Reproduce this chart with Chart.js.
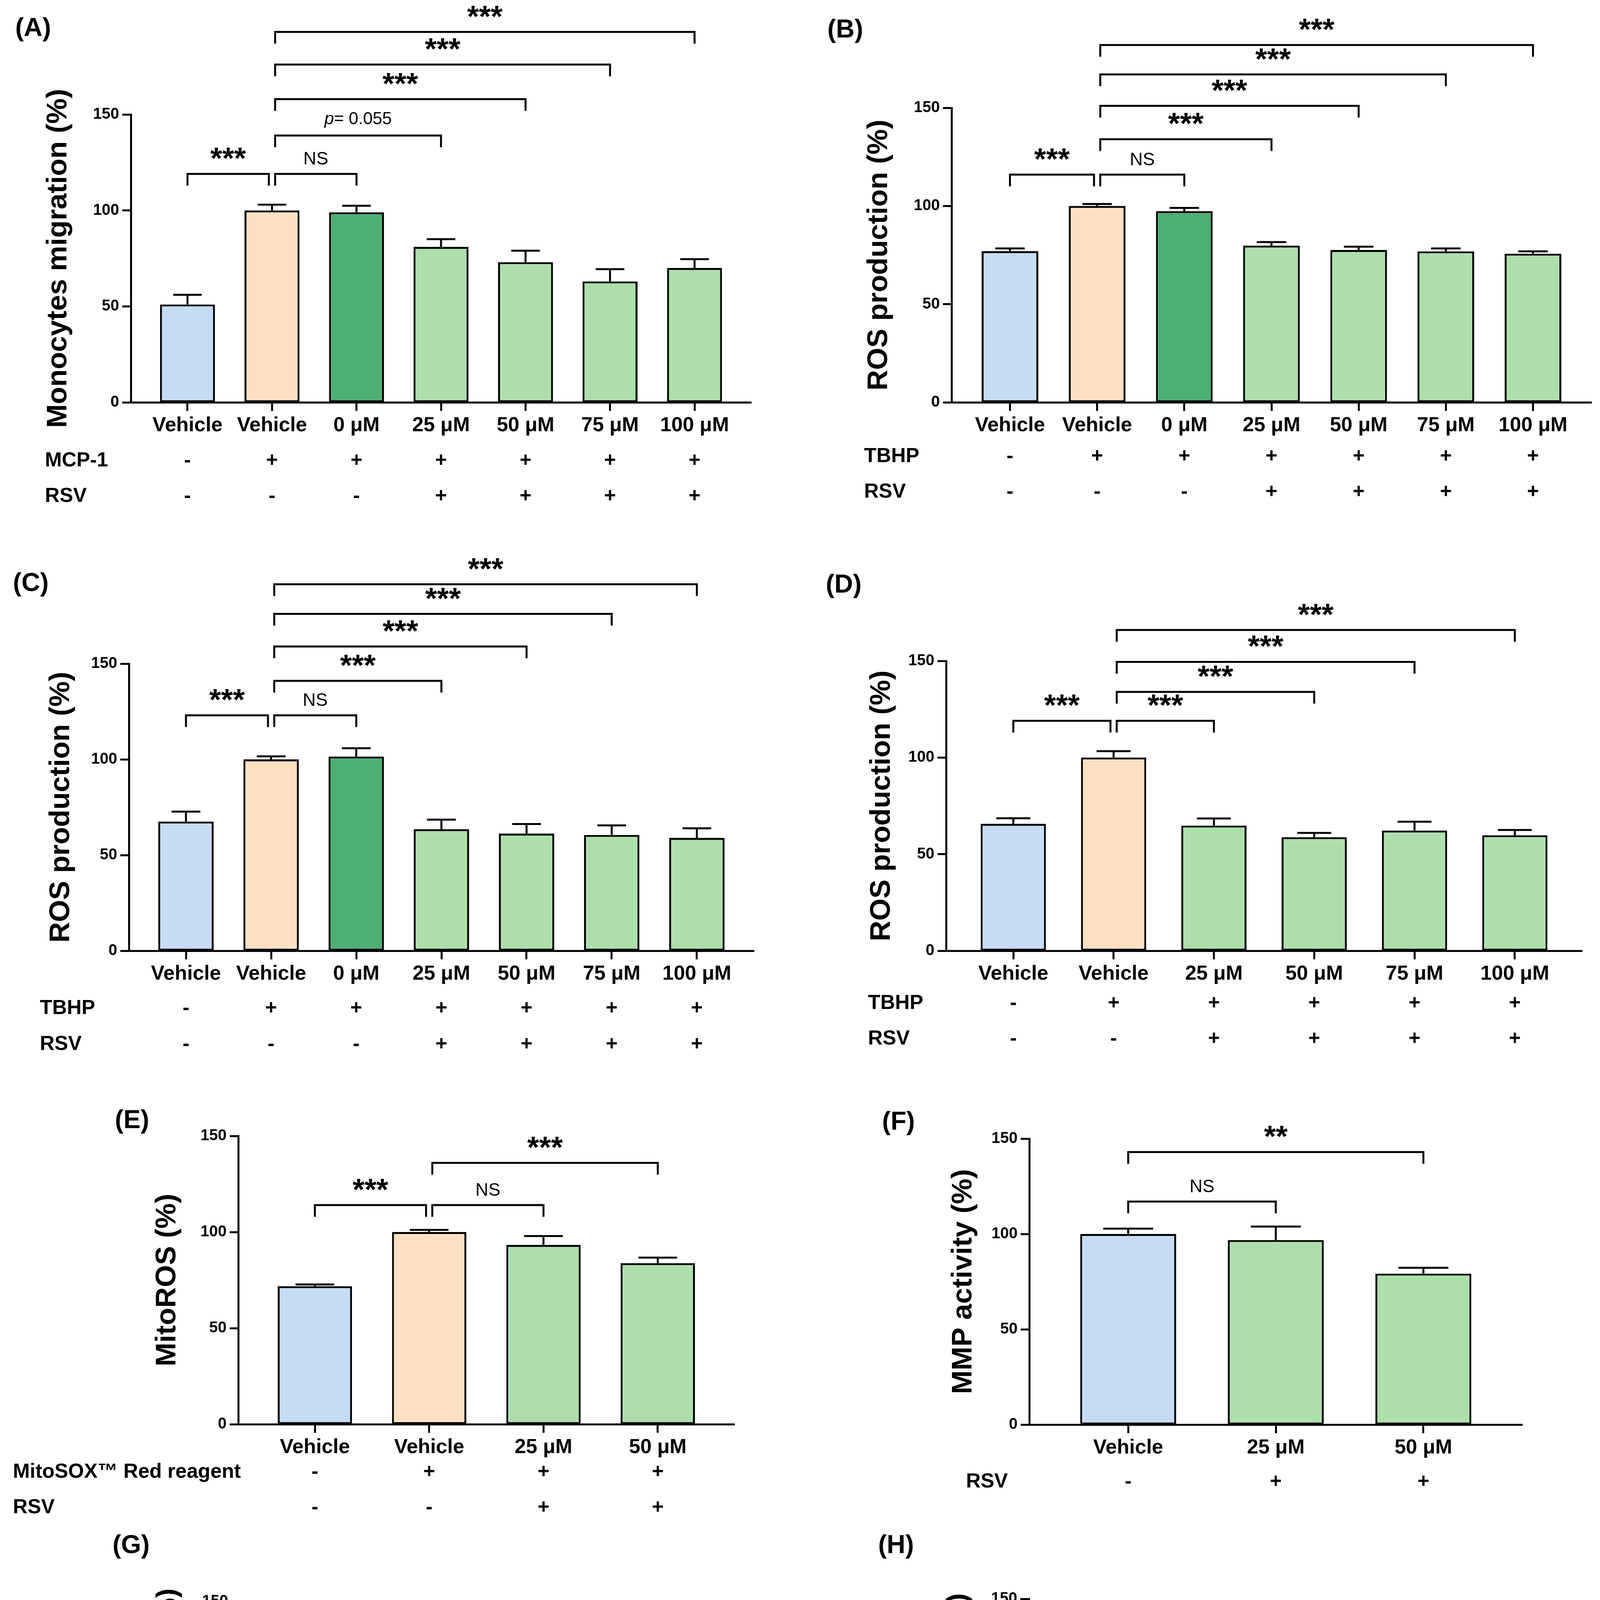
<!DOCTYPE html>
<html>
<head>
<meta charset="utf-8">
<script src="https://cdn.jsdelivr.net/npm/chart.js@4.4.1/dist/chart.umd.min.js"></script>
<style>
  html, body { margin: 0; padding: 0; background: #fff; }
  #page { position: relative; width: 4110px; height: 5106px; background: #fff; overflow: hidden; }
  #page canvas { position: absolute; }
</style>
</head>
<body>
<div id="page"></div>
<script>
// values (mean and SEM, % of control)
const catsA = ['Vehicle', 'Vehicle', '0 μM', '25 μM', '50 μM', '75 μM', '100 μM']
const meanA = [51, 100, 99, 81, 73, 63, 70]
const semA = [5, 3, 3.4, 4, 6, 6.4, 4.6]
const rowsA = [['MCP-1', '-++++++'], ['RSV', '---++++']]
const sigA = [[0, 1, 119, '***'], [1, 2, 119, 'NS'], [1, 3, 139, 'p= 0.055'], [1, 4, 158, '***'], [1, 5, 176, '***'], [1, 6, 193, '***']]

const catsB = ['Vehicle', 'Vehicle', '0 μM', '25 μM', '50 μM', '75 μM', '100 μM']
const meanB = [77, 100, 97.4, 79.8, 77.6, 76.9, 75.7]
const semB = [1.4, 1, 1.6, 1.8, 1.7, 1.5, 1.2]
const rowsB = [['TBHP', '-++++++'], ['RSV', '---++++']]
const sigB = [[0, 1, 116, '***'], [1, 2, 116, 'NS'], [1, 3, 134, '***'], [1, 4, 151, '***'], [1, 5, 167, '***'], [1, 6, 182, '***']]

const catsC = ['Vehicle', 'Vehicle', '0 μM', '25 μM', '50 μM', '75 μM', '100 μM']
const meanC = [67.5, 100, 101.5, 63.5, 61.2, 60.5, 59]
const semC = [5.2, 1.6, 4.3, 5, 5, 5, 5]
const rowsC = [['TBHP', '-++++++'], ['RSV', '---++++']]
const sigC = [[0, 1, 123, '***'], [1, 2, 123, 'NS'], [1, 3, 141, '***'], [1, 4, 159, '***'], [1, 5, 176, '***'], [1, 6, 191.5, '***']]

const catsD = ['Vehicle', 'Vehicle', '25 μM', '50 μM', '75 μM', '100 μM']
const meanD = [65.7, 100, 64.8, 58.8, 62.2, 59.8]
const semD = [2.9, 3.3, 3.7, 2.2, 4.6, 2.7]
const rowsD = [['TBHP', '-+++++'], ['RSV', '--++++']]
const sigD = [[0, 1, 119, '***'], [1, 2, 119, '***'], [1, 3, 134, '***'], [1, 4, 149.5, '***'], [1, 5, 166, '***']]

const catsE = ['Vehicle', 'Vehicle', '25 μM', '50 μM']
const meanE = [71.8, 100, 93.3, 83.8]
const semE = [0.9, 1.1, 4.6, 2.9]
const rowsE = [['MitoSOX™ Red reagent', '-+++'], ['RSV', '--++']]
const sigE = [[0, 1, 114, '***'], [1, 2, 114, 'NS'], [1, 3, 136, '***']]

const catsF = ['Vehicle', '25 μM', '50 μM']
const meanF = [100, 96.8, 79.2]
const semF = [2.8, 7.1, 3.1]
const rowsF = [['RSV', '-++']]
const sigF = [[0, 1, 117, 'NS'], [0, 2, 143, '**']]

const catsG = ['Vehicle', 'Vehicle', '25 uM', '50 uM']
const meanG = [1.8, 100, 64.3, 70.9]
const semG = [1.5, 1.1, 3.6, 5.6]
const rowsG = [['CC (0.5 mg/ml)', '-+++'], ['RSV', '--++']]
const sigG = [[0, 1, 114, '***'], [1, 2, 114, '***'], [1, 3, 136, '***']]

const catsH = ['Vehicle', 'Vehicle', '50 μM RSV']
const meanH = [1.4, 100, 44.2]
const semH = [0.8, 3.2, 10.4]
const rowsH = [['IFN-γ', '-++']]
const sigH = [[0, 1, 129, '***'], [1, 2, 129, '***']]

const yTicks = [0, 50, 100, 150]

// styling
const SANS = '"Liberation Sans", Arial, sans-serif'
const SERIF = '"Liberation Serif", "DejaVu Serif", serif'
const BLUE = '#c6dcf5'
const PEACH = '#fde0c1'
const DARK = '#4daf73'
const LIGHT = '#addfad'
const LINE = 5
const Y_W = 110
const X_H = 110

const panels = [
  { id: 'A', cats: catsA, mean: meanA, sem: semA, rows: rowsA, sig: sigA, title: 'Monocytes migration (%)',
    colors: [BLUE, PEACH, DARK, LIGHT, LIGHT, LIGHT, LIGHT],
    canvas: [0, 0, 2055, 1360], plot: [335, 1923, 293, 1030], letter: [39, 74], titleX: 150, rowX: 115, rowY: [150, 241] },
  { id: 'B', cats: catsB, mean: meanB, sem: semB, rows: rowsB, sig: sigB, title: 'ROS production (%)',
    colors: [BLUE, PEACH, DARK, LIGHT, LIGHT, LIGHT, LIGHT],
    canvas: [2055, 0, 2055, 1360], plot: [2436, 4074, 276, 1030], letter: [2118, 78], titleX: 2251, rowX: 2212, rowY: [139, 230] },
  { id: 'C', cats: catsC, mean: meanC, sem: semC, rows: rowsC, sig: sigC, title: 'ROS production (%)',
    colors: [BLUE, PEACH, DARK, LIGHT, LIGHT, LIGHT, LIGHT],
    canvas: [0, 1360, 2055, 1400], plot: [330, 1930, 1699, 2434], letter: [33, 1495], titleX: 157, rowX: 102, rowY: [148, 240] },
  { id: 'D', cats: catsD, mean: meanD, sem: semD, rows: rowsD, sig: sigD, title: 'ROS production (%)',
    colors: [BLUE, PEACH, LIGHT, LIGHT, LIGHT, LIGHT],
    canvas: [2055, 1360, 2055, 1400], plot: [2422, 4050, 1692, 2434], letter: [2114, 1499], titleX: 2258, rowX: 2222, rowY: [135, 226] },
  { id: 'E', cats: catsE, mean: meanE, sem: semE, rows: rowsE, sig: sigE, title: 'MitoROS (%)',
    colors: [BLUE, PEACH, LIGHT, LIGHT],
    canvas: [0, 2760, 2055, 1120], plot: [610, 1880, 2908, 3646], letter: [294, 2870], titleX: 429, rowX: 33, rowY: [123, 214] },
  { id: 'F', cats: catsF, mean: meanF, sem: semF, rows: rowsF, sig: sigF, title: 'MMP activity (%)',
    colors: [BLUE, LIGHT, LIGHT],
    canvas: [2055, 2760, 2055, 1120], plot: [2635, 3897, 2915, 3647], letter: [2258, 2874], titleX: 2467, rowX: 2473, rowY: [147] },
  { id: 'G', cats: catsG, mean: meanG, sem: semG, rows: rowsG, sig: sigG, title: 'IL-1β concentration (%)',
    colors: [BLUE, PEACH, LIGHT, LIGHT],
    canvas: [0, 3880, 2055, 1226], plot: [614, 1885, 4100, 4836], letter: [288, 3958], titleX: 431, rowX: 271, rowY: [122, 212] },
  { id: 'H', cats: catsH, mean: meanH, sem: semH, rows: rowsH, sig: sigH, title: 'MCP-1 expression (%)',
    colors: [BLUE, PEACH, LIGHT],
    canvas: [2055, 3880, 2055, 1226], plot: [2634, 3907, 4093, 4831], letter: [2248, 3958], titleX: 2454, rowX: 2476, rowY: [159] }
]

// split text so greek letters get the serif face, like the original figure
function runs(text, font, size) {
  const out = []
  for (const ch of text) {
    const f = /[α-ω]/.test(ch) ? `${size}px ${SERIF}` : font
    if (out.length && out[out.length - 1].f === f) out[out.length - 1].t += ch
    else out.push({ t: ch, f: f })
  }
  return out
}

function drawRuns(ctx, list, x, y, align, glyphCenter) {
  let w = 0
  let asc = 0
  let desc = 0
  list.forEach(r => {
    ctx.font = r.f
    const m = ctx.measureText(r.t)
    r.w = m.width
    asc = Math.max(asc, m.actualBoundingBoxAscent)
    desc = Math.max(desc, m.actualBoundingBoxDescent)
    w += r.w
  })
  let left = align === 'center' ? x - w / 2 : x
  ctx.textAlign = 'left'
  let base = y
  if (glyphCenter) {
    ctx.textBaseline = 'alphabetic'
    base = y + (asc - desc) / 2
  } else {
    ctx.textBaseline = 'middle'
  }
  list.forEach(r => {
    ctx.font = r.f
    ctx.fillText(r.t, left, base)
    left += r.w
  })
}

function sigRuns(label) {
  if (label.startsWith('p=')) {
    return [{ t: 'p', f: `italic 44px ${SANS}` }, { t: label.slice(1), f: `44px ${SANS}` }]
  }
  if (label.includes('*')) return [{ t: label, f: `bold 78px ${SANS}` }]
  return [{ t: label, f: `46px ${SANS}` }]
}

function extras(p) {
  const ox = p.canvas[0]
  const oy = p.canvas[1]
  return {
    id: 'extras' + p.id,
    afterDatasetsDraw(chart) {
      const ctx = chart.ctx
      const xs = chart.scales.x
      const ys = chart.scales.y
      const bars = chart.getDatasetMeta(0).data
      ctx.save()
      ctx.strokeStyle = '#000'
      ctx.lineWidth = LINE
      p.mean.forEach((m, i) => {
        const cx = xs.getPixelForValue(i)
        const top = ys.getPixelForValue(m + p.sem[i])
        const half = bars[i].width * 0.26
        ctx.beginPath()
        ctx.moveTo(cx, ys.getPixelForValue(m))
        ctx.lineTo(cx, top)
        ctx.moveTo(cx - half, top)
        ctx.lineTo(cx + half, top)
        ctx.stroke()
      })
      ctx.restore()
    },
    afterDraw(chart) {
      const ctx = chart.ctx
      const xs = chart.scales.x
      const ys = chart.scales.y
      const area = chart.chartArea
      ctx.save()
      ctx.fillStyle = '#000'
      ctx.strokeStyle = '#000'
      ctx.lineWidth = LINE

      // significance brackets
      const starts = p.sig.map(s => s[0])
      const ends = p.sig.map(s => s[1])
      p.sig.forEach(([a, b, v, label]) => {
        let x1 = xs.getPixelForValue(a)
        let x2 = xs.getPixelForValue(b)
        if (ends.includes(a)) x1 += 8
        if (starts.includes(b)) x2 -= 8
        const y = ys.getPixelForValue(v)
        ctx.beginPath()
        ctx.moveTo(x1, y + 30)
        ctx.lineTo(x1, y)
        ctx.lineTo(x2, y)
        ctx.lineTo(x2, y + 30)
        ctx.stroke()
        drawRuns(ctx, sigRuns(label), (x1 + x2) / 2, y - 40, 'center', true)
      })

      // treatment rows under the axis
      p.rows.forEach(([name, signs], r) => {
        const ry = area.bottom + p.rowY[r]
        const font = `bold 52px ${SANS}`
        drawRuns(ctx, runs(name, font, 52), p.rowX - ox, ry, 'left', false)
        signs.split('').forEach((s, i) => {
          ctx.font = font
          ctx.textAlign = 'center'
          ctx.textBaseline = 'middle'
          ctx.fillText(s, xs.getPixelForValue(i), ry)
        })
      })

      // y axis title
      ctx.save()
      ctx.translate(p.titleX - ox, (area.top + area.bottom) / 2)
      ctx.rotate(-Math.PI / 2)
      drawRuns(ctx, runs(p.title, `bold 73px ${SANS}`, 73), 0, 0, 'center', false)
      ctx.restore()

      // panel letter
      ctx.font = `bold 66px ${SANS}`
      ctx.textAlign = 'left'
      ctx.textBaseline = 'middle'
      ctx.fillText(`(${p.id})`, p.letter[0] - ox, p.letter[1] - oy)
      ctx.restore()
    }
  }
}

function makeChart(p) {
  const [cx, cy, cw, ch] = p.canvas
  const [L, R, T, B] = p.plot
  const canvas = document.createElement('canvas')
  canvas.width = cw
  canvas.height = ch
  canvas.style.left = cx + 'px'
  canvas.style.top = cy + 'px'
  canvas.style.width = cw + 'px'
  canvas.style.height = ch + 'px'
  document.getElementById('page').appendChild(canvas)

  const n = p.cats.length
  new Chart(canvas.getContext('2d'), {
    type: 'bar',
    data: {
      datasets: [{
        data: p.mean.map((v, i) => ({ x: i, y: v })),
        backgroundColor: p.colors,
        borderColor: '#000',
        borderWidth: LINE,
        borderSkipped: false,
        categoryPercentage: 0.65,
        barPercentage: 1
      }]
    },
    options: {
      responsive: false,
      animation: false,
      devicePixelRatio: 1,
      layout: {
        padding: { left: L - cx - Y_W, right: cx + cw - R, top: T - cy, bottom: cy + ch - B - X_H }
      },
      plugins: { legend: { display: false }, tooltip: { enabled: false } },
      scales: {
        x: {
          type: 'linear',
          offset: false,
          min: -0.67,
          max: n - 1 + 0.67,
          afterFit: s => { s.height = X_H },
          grid: { offset: false, drawOnChartArea: false, drawTicks: true, tickLength: 22, tickWidth: LINE, tickColor: '#000', color: '#000' },
          border: { display: true, width: LINE, color: '#000' },
          ticks: {
            stepSize: 1,
            includeBounds: false,
            autoSkip: false,
            maxRotation: 0,
            minRotation: 0,
            padding: 6,
            color: '#000',
            font: { family: SANS, size: 52, weight: 'bold' },
            callback: v => (Number.isInteger(v) ? p.cats[v] : '')
          }
        },
        y: {
          min: 0,
          max: 150,
          afterFit: s => { s.width = Y_W },
          afterBuildTicks: s => { s.ticks = yTicks.map(v => ({ value: v })) },
          grid: { drawOnChartArea: false, drawTicks: true, tickLength: 22, tickWidth: LINE, tickColor: '#000', color: '#000' },
          border: { display: true, width: LINE, color: '#000' },
          ticks: {
            padding: 8,
            color: '#000',
            font: { family: SANS, size: 40, weight: 'bold' }
          }
        }
      }
    },
    plugins: [extras(p)]
  })
}

panels.forEach(makeChart)
</script>
</body>
</html>
